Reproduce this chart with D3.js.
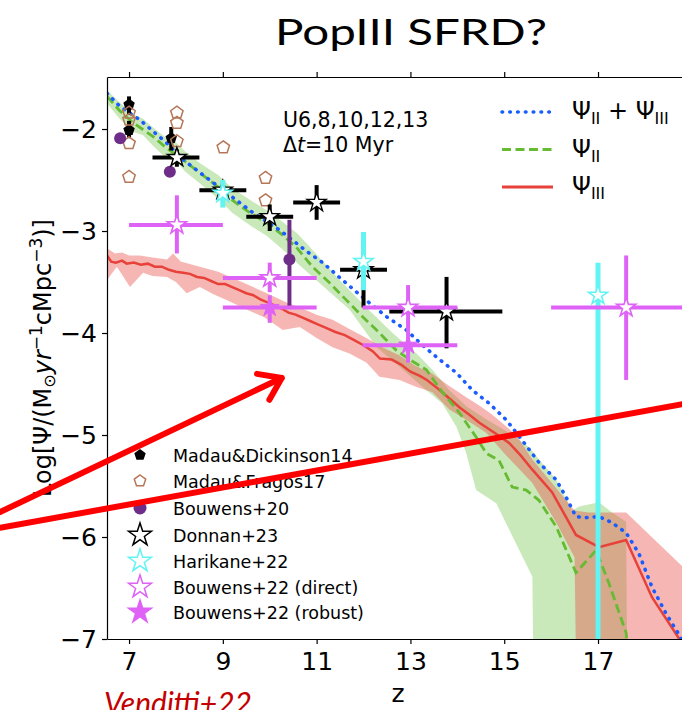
<!DOCTYPE html>
<html><head><meta charset="utf-8">
<script src="https://cdn.jsdelivr.net/npm/d3@7"></script>
<style>body{margin:0;background:#fff}svg{display:block}</style>
</head><body>
<svg id="c" width="682" height="710"></svg>
<script>
// ---------------- DATA ----------------
const xTicks = [7, 9, 11, 13, 15, 17];
const yTicks = [-2, -3, -4, -5, -6, -7];

// model curves [z, log SFRD]
const psiTotal = [[6.53,-1.65],[6.81,-1.78],[7.23,-1.91],[7.81,-2.14],[8.15,-2.30],[8.72,-2.50],[9.21,-2.67],[9.64,-2.82],[10.21,-2.99],[10.79,-3.20],[11.13,-3.31],[11.55,-3.48],[12.06,-3.68],[12.49,-3.84],[12.91,-3.97],[13.26,-4.12],[13.62,-4.26],[13.98,-4.39],[14.32,-4.56],[14.68,-4.69],[15.04,-4.85],[15.38,-5.05],[15.74,-5.27],[16.11,-5.44],[16.32,-5.61],[16.53,-5.80],[16.74,-5.81],[17.02,-5.80],[17.30,-5.86],[17.60,-5.96],[17.87,-6.16],[18.15,-6.49],[18.45,-6.75],[18.77,-6.99],[18.85,-7.08]];
const psiII = [[6.53,-1.68],[6.8,-1.82],[7.09,-1.94],[7.5,-2.07],[7.81,-2.19],[8.2,-2.32],[8.51,-2.43],[8.9,-2.57],[9.21,-2.70],[9.6,-2.83],[9.94,-2.92],[10.3,-3.05],[10.57,-3.16],[10.91,-3.35],[11.28,-3.51],[11.64,-3.68],[11.98,-3.84],[12.34,-4.00],[12.70,-4.17],[12.98,-4.26],[13.34,-4.36],[13.68,-4.58],[14.04,-4.78],[14.4,-5.02],[14.62,-5.18],[14.89,-5.25],[15.17,-5.51],[15.47,-5.54],[15.74,-5.64],[16.11,-5.90],[16.53,-6.35],[16.96,-6.13],[17.23,-6.45],[17.6,-6.94],[17.62,-7.05]];
const psiIII = [[6.53,-3.24],[6.62,-3.30],[6.72,-3.31],[6.85,-3.29],[6.95,-3.32],[7.1,-3.31],[7.25,-3.33],[7.4,-3.32],[7.55,-3.35],[7.7,-3.35],[7.85,-3.38],[8.0,-3.40],[8.15,-3.41],[8.3,-3.42],[8.45,-3.45],[8.6,-3.46],[8.75,-3.49],[8.9,-3.52],[9.05,-3.52],[9.2,-3.55],[9.35,-3.58],[9.5,-3.61],[9.65,-3.63],[9.8,-3.67],[9.95,-3.70],[10.1,-3.73],[10.25,-3.76],[10.4,-3.80],[10.55,-3.82],[10.7,-3.85],[10.85,-3.88],[11.0,-3.91],[11.2,-3.95],[11.4,-3.99],[11.6,-4.02],[11.8,-4.07],[12.0,-4.12],[12.2,-4.18],[12.35,-4.25],[12.6,-4.26],[12.8,-4.31],[13.0,-4.38],[13.2,-4.42],[13.35,-4.46],[13.6,-4.55],[13.8,-4.63],[14.05,-4.73],[14.25,-4.80],[14.47,-4.88],[14.8,-4.98],[15.11,-5.08],[15.35,-5.20],[15.60,-5.34],[16.02,-5.56],[16.53,-5.98],[17.02,-6.10],[17.60,-6.03],[18.15,-6.59],[18.72,-6.99],[18.8,-7.06]];

// shaded ranges: upper and lower edges
const psiIIHigh = [[6.53,-1.62],[6.8,-1.74],[7.1,-1.86],[7.3,-1.90],[7.5,-1.98],[7.8,-2.09],[8.0,-2.13],[8.2,-2.22],[8.5,-2.33],[8.9,-2.45],[9.2,-2.58],[9.6,-2.70],[9.94,-2.80],[10.3,-2.92],[10.6,-3.03],[10.9,-3.18],[11.2,-3.33],[11.49,-3.48],[12.06,-3.75],[12.62,-4.00],[13.13,-4.20],[13.47,-4.36],[13.83,-4.56],[14.2,-4.72],[14.6,-4.84],[15.11,-4.98],[15.53,-5.12],[16.11,-5.44],[16.45,-5.74],[16.6,-5.70],[17.02,-5.66],[17.3,-5.76],[17.6,-5.85],[17.62,-7.2]];
const psiIILow = [[6.53,-1.75],[6.8,-1.90],[7.1,-2.03],[7.3,-2.06],[7.5,-2.16],[7.8,-2.29],[8.0,-2.31],[8.2,-2.42],[8.5,-2.53],[8.9,-2.68],[9.2,-2.82],[9.6,-2.95],[9.94,-3.05],[10.3,-3.19],[10.6,-3.32],[10.99,-3.48],[11.70,-3.77],[12.28,-4.14],[12.77,-4.33],[13.26,-4.53],[13.68,-4.69],[13.98,-4.92],[14.19,-5.18],[14.40,-5.54],[14.83,-5.67],[15.60,-6.39],[15.62,-7.2]];
const psiIIIHigh = [[6.53,-3.17],[6.7,-3.22],[6.85,-3.21],[7.0,-3.24],[7.23,-3.24],[7.5,-3.26],[7.81,-3.28],[7.94,-3.22],[8.1,-3.30],[8.51,-3.35],[8.9,-3.40],[9.21,-3.46],[9.6,-3.54],[9.94,-3.61],[10.36,-3.70],[10.64,-3.75],[11.0,-3.82],[11.34,-3.87],[11.7,-3.96],[12.06,-4.05],[12.4,-4.14],[12.77,-4.22],[13.1,-4.32],[13.47,-4.40],[13.83,-4.52],[14.19,-4.63],[14.5,-4.72],[14.74,-4.80],[15.0,-4.90],[15.26,-5.00],[15.6,-5.24],[16.0,-5.46],[16.5,-5.74],[16.8,-5.76],[17.6,-5.76],[18.94,-6.35]];
const psiIIILow = [[6.53,-3.48],[6.74,-3.35],[7.02,-3.55],[7.30,-3.41],[7.5,-3.44],[7.81,-3.45],[8.0,-3.50],[8.23,-3.61],[8.51,-3.55],[8.8,-3.62],[9.09,-3.68],[9.51,-3.77],[9.9,-3.85],[10.28,-3.97],[10.64,-3.94],[11.0,-4.05],[11.34,-4.14],[11.70,-4.20],[12.06,-4.29],[12.34,-4.43],[12.77,-4.46],[13.13,-4.53],[13.47,-4.58],[13.83,-4.75],[14.19,-4.85],[14.62,-4.98],[15.0,-5.18],[15.6,-5.47],[16.1,-5.85],[16.5,-6.2],[16.53,-7.2],[18.94,-7.2]];

// observations: z, value, z range, value range
const madauDickinson14 = [
  {z:7.0, v:-1.76, z0:7.0, z1:7.0, v0:-1.86, v1:-1.68},
  {z:7.0, v:-2.01, z0:7.0, z1:7.0, v0:-2.09, v1:-1.92},
  {z:7.9, v:-2.09, z0:7.9, z1:7.9, v0:-2.21, v1:-1.98}];
const madauFragos17 = [
  {z:7.0, v:-1.84},{z:7.0, v:-1.91},{z:7.0, v:-2.14},{z:7.0, v:-2.47},
  {z:8.02, v:-1.84},{z:8.02, v:-1.94},{z:8.02, v:-2.12},
  {z:9.01, v:-2.18},{z:9.91, v:-2.48},{z:9.91, v:-2.70}];
const bouwens20 = [
  {z:6.81, v:-2.09, z0:6.81, z1:6.81, v0:-2.09, v1:-2.09},
  {z:7.87, v:-2.42, z0:7.87, z1:7.87, v0:-2.42, v1:-2.42},
  {z:10.42, v:-3.28, z0:10.42, z1:10.42, v0:-3.74, v1:-2.89}];
const donnan23 = [
  {z:8.02, v:-2.28, z0:7.5, z1:8.5, v0:-2.37, v1:-2.20},
  {z:9.0, v:-2.60, z0:8.5, z1:9.5, v0:-2.70, v1:-2.52},
  {z:10.0, v:-2.86, z0:9.5, z1:10.5, v0:-3.00, v1:-2.74},
  {z:11.0, v:-2.72, z0:10.5, z1:11.5, v0:-2.89, v1:-2.55},
  {z:12.0, v:-3.38, z0:11.5, z1:12.5, v0:-3.75, v1:-3.10},
  {z:13.77, v:-3.79, z0:12.55, z1:14.96, v0:-4.15, v1:-3.45}];
const harikane22 = [
  {z:9.0, v:-2.63, z0:9.0, z1:9.0, v0:-2.77, v1:-2.50},
  {z:12.0, v:-3.30, z0:12.0, z1:12.0, v0:-3.58, v1:-3.01},
  {z:17.0, v:-3.63, z0:17.0, z1:17.0, v0:-7.5, v1:-3.31}];
const bouwens22direct = [
  {z:8.02, v:-2.94, z0:7.0, z1:9.0, v0:-3.22, v1:-2.65},
  {z:10.0, v:-3.46, z0:9.0, z1:11.0, v0:-3.60, v1:-3.31},
  {z:12.95, v:-3.75, z0:11.98, z1:14.0, v0:-3.98, v1:-3.53},
  {z:17.6, v:-3.75, z0:16.0, z1:19.2, v0:-4.46, v1:-3.24}];
const bouwens22robust = [
  {z:10.0, v:-3.75, z0:9.0, z1:11.0, v0:-3.90, v1:-3.63},
  {z:12.95, v:-4.12, z0:11.98, z1:14.0, v0:-4.29, v1:-3.98}];

// annotation arrows (data units)
const arrowA = [[4.25,-5.755],[10.255,-4.441]];
const lineB = [[4.25,-5.91],[18.9,-4.69]];

// ---------------- DRAW ----------------
const svg = d3.select('#c');
const xs = d3.scaleLinear().domain([6.53, 18.94]).range([107, 689]);
const ys = d3.scaleLinear().domain([-7, -1.49]).range([639, 77]);
const FONT = 'DejaVu Sans, sans-serif';

const RED = '#e8413a', GREEN = '#66bb33', BLUE = '#1b5cff';
const CYAN = '#62f3f3', MAG = '#df62f7', PURP = '#6e2d88', BROWN = '#b57657';
const DOTS = '0.6,7.2';

svg.append('defs').append('clipPath').attr('id','plotclip')
  .append('rect').attr('x',107).attr('y',77).attr('width',582).attr('height',562);

const g = svg.append('g').attr('clip-path','url(#plotclip)');

function band(hi, lo){
  const pts = hi.map(d=>[xs(d[0]),ys(d[1])]).concat(lo.slice().reverse().map(d=>[xs(d[0]),ys(d[1])]));
  return 'M'+pts.map(p=>p.join(',')).join('L')+'Z';
}
g.append('path').attr('d', band(psiIIHigh, psiIILow)).attr('fill', '#5fbd2f').attr('fill-opacity',0.33);
g.append('path').attr('d', band(psiIIIHigh, psiIIILow)).attr('fill', RED).attr('fill-opacity',0.38);

const lineGen = d3.line().x(d=>xs(d[0])).y(d=>ys(d[1]));
g.append('path').attr('d', lineGen(psiIII)).attr('fill','none').attr('stroke',RED).attr('stroke-width',2.5);
g.append('path').attr('d', lineGen(psiII)).attr('fill','none').attr('stroke',GREEN).attr('stroke-width',2.8).attr('stroke-dasharray','9,4.5');
g.append('path').attr('d', lineGen(psiTotal)).attr('fill','none').attr('stroke',BLUE).attr('stroke-width',3.6)
  .attr('stroke-linecap','round').attr('stroke-dasharray',DOTS);

function starPath(R){
  const r = R*0.382; let p='';
  for(let i=0;i<10;i++){const a=-Math.PI/2+i*Math.PI/5, rr=i%2?r:R; p+=(i?'L':'M')+(rr*Math.cos(a)).toFixed(2)+','+(rr*Math.sin(a)).toFixed(2);}
  return p+'Z';
}
function pentPath(R){
  let p='';
  for(let i=0;i<5;i++){const a=-Math.PI/2+i*2*Math.PI/5; p+=(i?'L':'M')+(R*Math.cos(a)).toFixed(2)+','+(R*Math.sin(a)).toFixed(2);}
  return p+'Z';
}

function errbars(data, color, w){
  const eg = g.append('g').attr('stroke', color).attr('stroke-width', w).attr('fill','none');
  data.forEach(d=>{
    if (d.z1 > d.z0) eg.append('line').attr('x1',xs(d.z0)).attr('x2',xs(d.z1)).attr('y1',ys(d.v)).attr('y2',ys(d.v));
    if (d.v1 > d.v0) eg.append('line').attr('x1',xs(d.z)).attr('x2',xs(d.z)).attr('y1',ys(d.v0)).attr('y2',ys(d.v1));
  });
}
function markers(data, path, fill, stroke, sw){
  g.append('g').selectAll('path').data(data).join('path')
    .attr('d', path).attr('transform', d=>`translate(${xs(d.z)},${ys(d.v)})`)
    .attr('fill', fill).attr('stroke', stroke).attr('stroke-width', sw);
}

errbars(madauDickinson14, '#000', 4);
markers(madauDickinson14, pentPath(6), '#000', 'none', 0);
markers(madauFragos17, pentPath(6.5), 'none', BROWN, 1.5);
errbars(bouwens20, PURP, 4);
g.append('g').selectAll('circle').data(bouwens20).join('circle')
  .attr('cx', d=>xs(d.z)).attr('cy', d=>ys(d.v)).attr('r', 6).attr('fill', PURP);
errbars(donnan23, '#000', 4);
markers(donnan23, starPath(10), '#fff', '#000', 1.4);
errbars(harikane22, CYAN, 5);
markers(harikane22, starPath(10), '#fff', CYAN, 1.6);
errbars(bouwens22direct, MAG, 4);
markers(bouwens22direct, starPath(10), '#fff', MAG, 1.6);
errbars(bouwens22robust, MAG, 4);
markers(bouwens22robust, starPath(10), MAG, MAG, 1);

// axes
const ax = svg.append('g').attr('font-family', FONT);
const axB = ax.append('g').attr('transform','translate(0,639)')
  .call(d3.axisBottom(xs).tickValues(xTicks).tickSize(5).tickSizeOuter(0).tickPadding(8).tickFormat(d3.format('d')));
const axT = ax.append('g').attr('transform','translate(0,77)')
  .call(d3.axisTop(xs).tickValues(xTicks).tickSize(5).tickSizeOuter(0).tickFormat(''));
const axL = ax.append('g').attr('transform','translate(107,0)')
  .call(d3.axisLeft(ys).tickValues(yTicks).tickSize(5).tickSizeOuter(0).tickPadding(5).tickFormat(d3.format('d')));
[axB, axT, axL].forEach(a=>{
  a.selectAll('text').attr('font-size', 25).attr('font-family', FONT).attr('fill','#000');
  a.selectAll('line').attr('stroke','#000').attr('stroke-width',1.2);
  a.select('.domain').attr('stroke','#000').attr('stroke-width',1.2);
});

// axis labels
svg.append('text').attr('x', 398).attr('y', 702).attr('text-anchor','middle')
  .attr('font-family', FONT).attr('font-size', 25).text('z');
const yl = svg.append('text').attr('transform','translate(51,358) rotate(-90)')
  .attr('text-anchor','middle').attr('font-family', FONT).attr('font-size', 24);
yl.append('tspan').text('Log[Ψ/(M');
yl.append('tspan').attr('font-size',16).attr('dy',4).text('⊙');
yl.append('tspan').attr('dy',-4).attr('font-style','italic').text('yr');
yl.append('tspan').attr('font-size',17).attr('dy',-9).text('−1');
yl.append('tspan').attr('dy',9).text('cMpc');
yl.append('tspan').attr('font-size',17).attr('dy',-9).text('−3');
yl.append('tspan').attr('dy',9).text(')]');

// title
svg.append('text').attr('x', 411).attr('y', 45).attr('text-anchor','middle')
  .attr('font-family','Lato, Open Sans, sans-serif').attr('font-size', 37)
  .attr('textLength', 272).attr('lengthAdjust','spacingAndGlyphs').text('PopIII SFRD?');

// annotation text
svg.append('text').attr('x', 283).attr('y', 127).attr('font-family', FONT).attr('font-size', 20.5).text('U6,8,10,12,13');
const dt = svg.append('text').attr('x', 283).attr('y', 152).attr('font-family', FONT).attr('font-size', 20.5);
dt.append('tspan').text('Δ');
dt.append('tspan').attr('font-style','italic').text('t');
dt.append('tspan').text('=10 Myr');

// top-right legend
const modelLegend = [
  {lab:[['Ψ',0],['II',1],[' + Ψ',0],['III',1]], color:BLUE, dash:DOTS, w:3.6, cap:'round'},
  {lab:[['Ψ',0],['II',1]], color:GREEN, dash:'9,4.5', w:2.8, cap:'butt'},
  {lab:[['Ψ',0],['III',1]], color:RED, dash:null, w:3.2, cap:'butt'}];
const lg = svg.append('g');
modelLegend.forEach((m,i)=>{
  const cy = 112 + i*37.5;
  lg.append('line').attr('x1',502).attr('x2',553).attr('y1',cy).attr('y2',cy)
    .attr('stroke',m.color).attr('stroke-width',m.w).attr('stroke-dasharray',m.dash).attr('stroke-linecap',m.cap);
  const t = lg.append('text').attr('x',572).attr('y',cy+7).attr('font-family',FONT).attr('font-size',24);
  let sub=false;
  m.lab.forEach(([s,isSub])=>{
    const ts = t.append('tspan').text(s);
    if(isSub && !sub){ts.attr('font-size',16).attr('dy',5); sub=true;}
    else if(!isSub && sub){ts.attr('dy',-5); sub=false;}
  });
});

// bottom-left legend
const obsLegend = [
  {lab:'Madau&Dickinson14', kind:'pentF'},
  {lab:'Madau&Fragos17', kind:'pentO'},
  {lab:'Bouwens+20', kind:'circ'},
  {lab:'Donnan+23', kind:'star', c:'#000', f:'#fff'},
  {lab:'Harikane+22', kind:'star', c:CYAN, f:'#fff'},
  {lab:'Bouwens+22 (direct)', kind:'star', c:MAG, f:'#fff'},
  {lab:'Bouwens+22 (robust)', kind:'star', c:MAG, f:MAG}];
const rowY = [455, 481, 508, 535, 561, 587, 612];
const bl = svg.append('g');
obsLegend.forEach((o,i)=>{
  const cy = rowY[i], cx = 140;
  if(o.kind==='pentF') bl.append('path').attr('d',pentPath(6)).attr('transform',`translate(${cx},${cy})`).attr('fill','#000');
  if(o.kind==='pentO') bl.append('path').attr('d',pentPath(6)).attr('transform',`translate(${cx},${cy})`).attr('fill','none').attr('stroke',BROWN).attr('stroke-width',1.5);
  if(o.kind==='circ') bl.append('circle').attr('cx',cx).attr('cy',cy).attr('r',6.5).attr('fill',PURP);
  if(o.kind==='star') bl.append('path').attr('d',starPath(12)).attr('transform',`translate(${cx},${cy})`).attr('fill',o.f).attr('stroke',o.c).attr('stroke-width',1.5);
  bl.append('text').attr('x',173).attr('y',cy+6.5).attr('font-family',FONT).attr('font-size',17.5).text(o.lab);
});

// credit
svg.append('text').attr('x',104).attr('y',714).attr('font-family','Lato, Open Sans, sans-serif')
  .attr('font-style','italic').attr('font-size',30).attr('fill','#c40000').text('Venditti+22');

// red overlay arrows
const ov = svg.append('g').attr('stroke','#ff0000').attr('stroke-width',6).attr('stroke-linecap','round').attr('stroke-linejoin','round').attr('fill','none');
ov.append('path').attr('d', lineGen(lineB));
ov.append('path').attr('d', lineGen(arrowA));
const tip = [xs(arrowA[1][0]), ys(arrowA[1][1])], tail = [xs(arrowA[0][0]), ys(arrowA[0][1])];
const ang = Math.atan2(tail[1]-tip[1], tail[0]-tip[0]);
const hl = 25, spread = 35*Math.PI/180;
const b1 = [tip[0]+hl*Math.cos(ang+spread), tip[1]+hl*Math.sin(ang+spread)];
const b2 = [tip[0]+hl*Math.cos(ang-spread), tip[1]+hl*Math.sin(ang-spread)];
ov.append('path').attr('d', `M${b1}L${tip}L${b2}`);
</script>
</body></html>
